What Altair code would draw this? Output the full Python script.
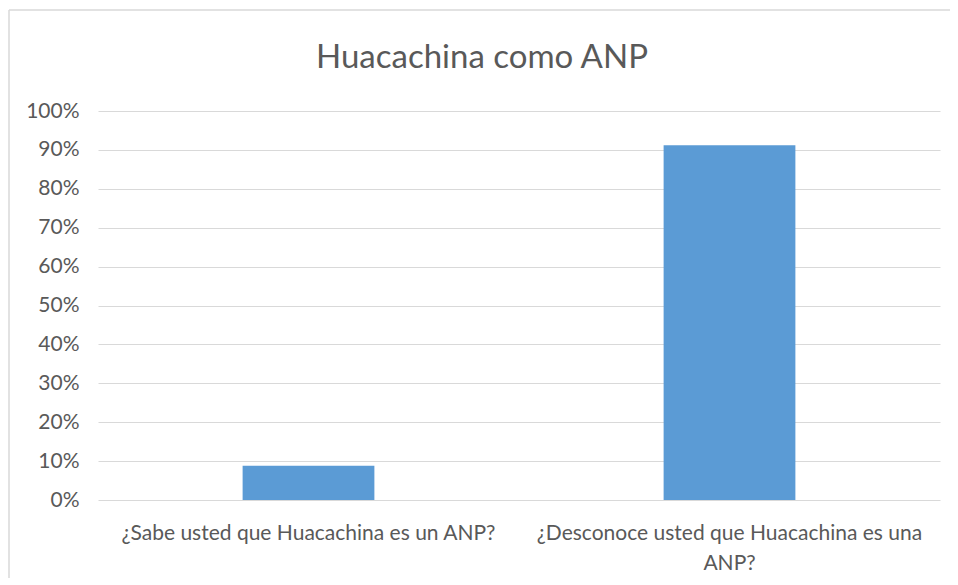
import altair as alt
import pandas as pd

categories = ["¿Sabe usted que Huacachina es un ANP?",
              "¿Desconoce usted que Huacachina es una ANP?"]
values = [0.088, 0.912]
y_ticks = [0, 0.1, 0.2, 0.3, 0.4, 0.5, 0.6, 0.7, 0.8, 0.9, 1.0]

df = pd.DataFrame({"pregunta": categories, "valor": values})

FONT = "Lato"
W, H = 842, 389

one = pd.DataFrame({"a": [0]})
frame_top = alt.Chart(one).mark_rule(color="#D9D9D9", strokeWidth=1.5).encode(
    x=alt.value(-89), x2=alt.value(W + 20), y=alt.value(-101),
)
frame_left = alt.Chart(one).mark_rule(color="#D9D9D9", strokeWidth=1.5).encode(
    x=alt.value(-89), y=alt.value(-101), y2=alt.value(H + 120),
)

bars = alt.Chart(df).mark_bar(color="#5B9BD5").encode(
    x=alt.X("pregunta:N", sort=None,
            scale=alt.Scale(paddingInner=0.687, paddingOuter=0.3435),
            axis=alt.Axis(
                title=None, labelAngle=0, labelLimit=0, ticks=False, domain=False,
                labelFont=FONT, labelFontSize=21, labelColor="#595959",
                labelPadding=22, labelLineHeight=30,
                labelExpr="length(datum.label) > 40 ? [substring(datum.label, 0, length(datum.label) - 5), substring(datum.label, length(datum.label) - 4)] : datum.label",
            )),
    y=alt.Y("valor:Q",
            scale=alt.Scale(domain=[0, 1], nice=False),
            axis=alt.Axis(
                title=None, values=y_ticks, format=".0%", ticks=False, domain=False,
                labelFont=FONT, labelFontSize=21, labelColor="#595959",
                labelPadding=19, gridColor="#D9D9D9", gridWidth=1,
            )),
)

chart = alt.layer(frame_top, frame_left, bars).properties(
    width=W, height=H,
    title=alt.Title("Huacachina como ANP", font=FONT, fontSize=33, fontWeight="normal",
                    color="#595959", anchor="middle", dx=-37, dy=66, offset=0),
    autosize=alt.AutoSizeParams(type="none"),
    padding={"left": 90, "top": 103, "right": 10, "bottom": 78},
).configure_view(stroke=None)

chart.save("out.html", embed_options={"renderer": "svg", "actions": False})
